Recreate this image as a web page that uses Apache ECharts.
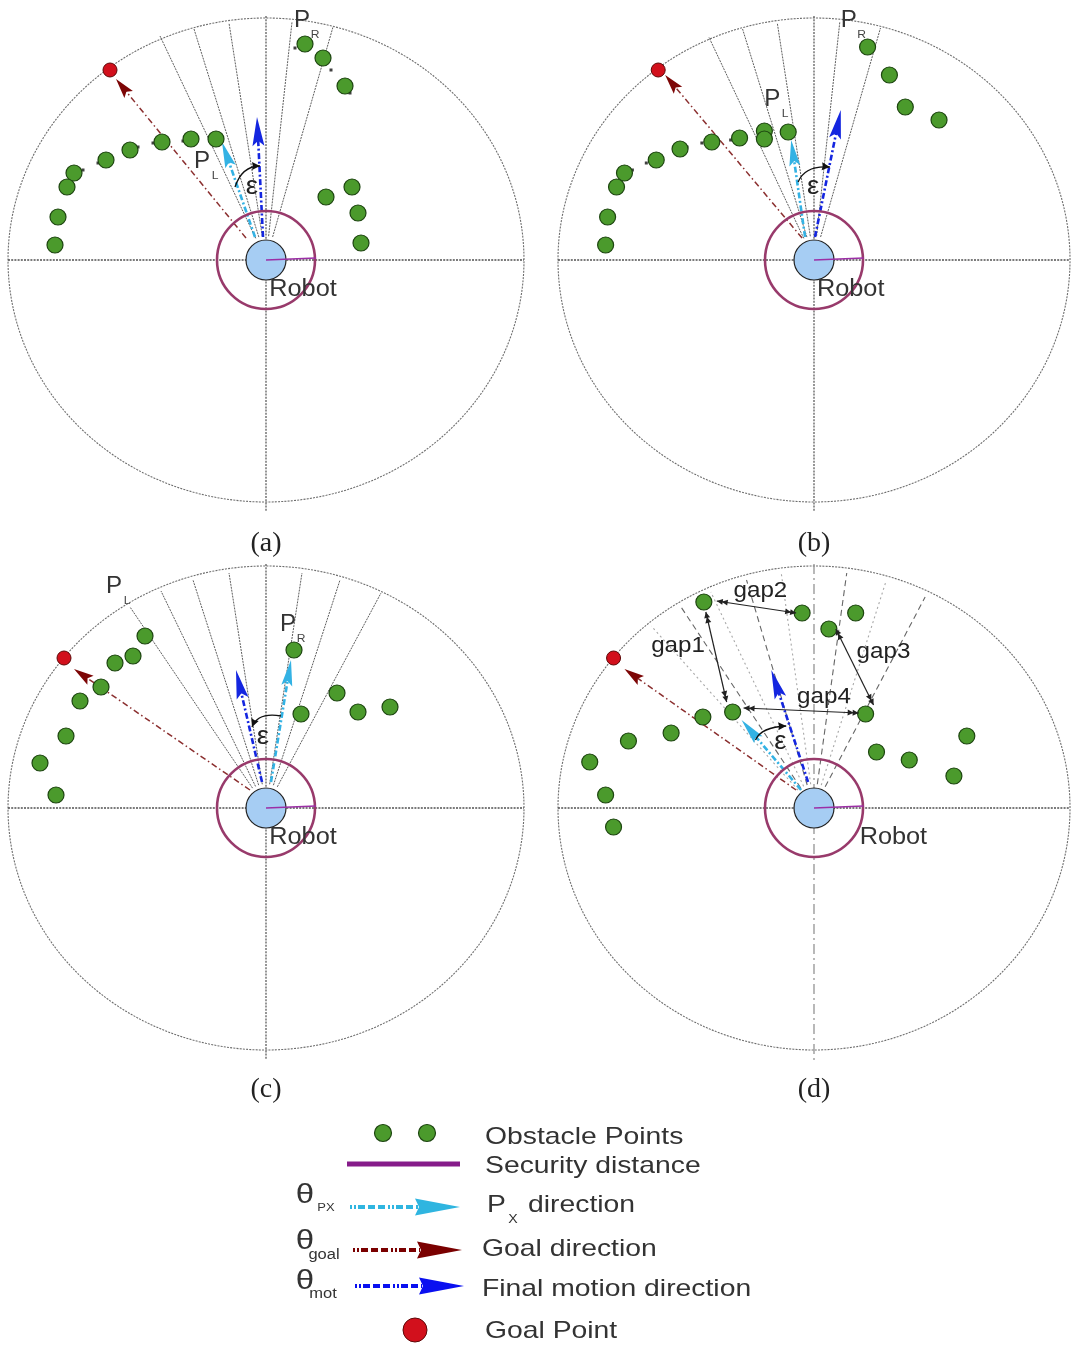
<!DOCTYPE html>
<html><head><meta charset="utf-8">
<script src="https://cdn.jsdelivr.net/npm/echarts@6/dist/echarts.min.js"></script>
<style>html,body{margin:0;padding:0;background:#fff}#c{width:1072px;height:1347px}</style>
</head><body><div id="c"></div>
<script>
// ---------- data (panel-local coordinates, x right / y up, robot at 0,0) ----------
const panelNames = ['(a)', '(b)', '(c)', '(d)'];
const obstaclesA = [[39,216],[57,202],[79,174],[-50,121],[-75,121],[-104,118],[-136,110],[-160,100],[-192,87],[-199,73],[-208,43],[-211,15],[60,63],[86,73],[92,47],[95,17]];
const obstaclesB = [[54,213],[76,185],[92,153],[126,140],[-26,128],[-50,129],[-50,121],[-75,122],[-103,118],[-135,111],[-159,100],[-191,87],[-199,73],[-208,43],[-210,15]];
const obstaclesC = [[-121,172],[-133,152],[-151,145],[-165,121],[-186,107],[-200,72],[-226,45],[-210,13],[28,158],[35,94],[71,115],[92,96],[124,101]];
const obstaclesD = [[-111,206],[-12,195],[42,195],[15,179],[-82,96],[-112,91],[-144,75],[-187,67],[-226,46],[-210,13],[-202,-19],[52,94],[63,56],[96,48],[154,72],[141,32]];
const scanDotsA = [[29,212],[65,190],[84,167],[-83,119],[-113,117],[-128,113],[-168,97],[-183,90]];
const scanDotsB = [[-84,120],[-113,117],[-128,113],[-169,97],[-183,90]];
const goalPoints = [[-156,190],[-157,190],[-202,150],[-202,150]];
const raysA = [[-106,224],[-72,231],[-37,237],[26,238],[67,233]];
const raysB = [[-106,223],[-72,231],[-37,237],[26,238],[67,232]];
const raysC = [[-136,201],[-105,217],[-73,228],[-37,235],[36,235],[74,228],[115,215]];
const raysD = [[-164,182],[-134,201],[-104,216],[-68,228],[-33,235],[33,235],[72,225],[112,211]];
// arrows: [startX, startY, tipX, tipY]
const goalArrows = [[-20,22,-150,181],[-12,22,-150,185],[-16,18,-192,139],[-18,18,-191,139]];
const pxArrows = [[-11,23,-44,118],[-9,23,-23,120],[5,26,25,148],[-13,18,-73,88]];
const motArrows = [[-3,23,-9,143],[1,23,27,150],[-4,26,-30,138],[-6,26,-43,138]];
// epsilon arcs: [start, control, end(arrow)]
const epsArcs = [[-31,73,-24,94,-6,94],[-16,78,-9,95,16,93],[15,92,-8,96,-14,81],[-59,68,-53,81,-28,82]];
const epsLabels = [[-14,73],[-1,73],[-3,71],[-34,66]];
// P labels: [subscript, x, y]
const pLabelsA = [['R',36,239],['L',-64,98]];
const pLabelsB = [['R',35,239],['L',-42,160]];
const pLabelsC = [['L',-152,221],['R',22,183]];
const pLabelsD = [];
const gapArrows = [[-109,196,-88,106],[-98,207,-18,195],[22,179,60,103],[-71,100,45,95]];
const gapNames = ['gap1','gap2','gap3','gap4'];
const gapLabelPos = [[-137,162],[-54,217],[70,156],[10,111]];
const robotLabelPos = [[37,-30],[37,-30],[37,-30],[80,-30]];
const captionPos = [[0,-284],[0,-284],[0,-282],[0,-282]];

// ---------- layout / style ----------
const centers = [[266,260],[816,260],[266,808],[816,808]];
const OUTER = [258, 242];
const RAY_START = 24;
const SANS = '"Liberation Sans", Arial, sans-serif';
const GREEN = '#4b9a2c', GREEN_B = '#1d4510';
const RED = '#d2101c', RED_B = '#5e0808';
const LBLUE = '#33b2e4', DBLUE = '#1426e0', DRED = '#7d0606';

function headEls(a, b, len, w, color, notch) {
  const dx = b[0]-a[0], dy = b[1]-a[1], L = Math.hypot(dx,dy) || 1;
  const ux = dx/L, uy = dy/L, nx = -uy, ny = ux;
  const bx = b[0]-ux*len, by = b[1]-uy*len;
  const n = notch || 0;
  return {type:'polygon', shape:{points:[[b[0],b[1]],[bx+nx*w/2,by+ny*w/2],[bx+ux*len*n,by+uy*len*n],[bx-nx*w/2,by-ny*w/2]]}, style:{fill:color}};
}
function arrowEls(a, b, st) {
  const dx = b[0]-a[0], dy = b[1]-a[1], L = Math.hypot(dx,dy) || 1;
  const ux = dx/L, uy = dy/L;
  const ex = b[0]-ux*(st.len*0.8), ey = b[1]-uy*(st.len*0.8);
  return [
    {type:'line', shape:{x1:a[0],y1:a[1],x2:ex,y2:ey}, style:{stroke:st.line, lineWidth:st.lw, lineDash:st.dash, fill:null}},
    headEls(a, b, st.len, st.w, st.head, 0.18)
  ];
}
function frameSeries(p) {
  return {type:'custom', xAxisIndex:p, yAxisIndex:p, data:[[0,0]], silent:true, z:1,
    renderItem:(params, api) => {
      const pts = [];
      for (let k=0;k<=240;k++){const t=k/240*Math.PI*2; pts.push(api.coord([OUTER[0]*Math.cos(t), OUTER[1]*Math.sin(t)]));}
      const l=api.coord([-OUTER[0],0]), r=api.coord([OUTER[0],0]), t=api.coord([0,OUTER[1]+2]), b=api.coord([0,-252]);
      return {type:'group', children:[
        {type:'polyline', shape:{points:pts}, style:{stroke:'#6e6e6e', lineWidth:1.1, lineDash:[2,1.2], fill:null}},
        {type:'line', shape:{x1:l[0],y1:l[1],x2:r[0],y2:r[1]}, style:{stroke:'#505050', lineWidth:1.3, lineDash:[2,1.2]}},
        {type:'line', shape:{x1:t[0],y1:t[1],x2:b[0],y2:b[1]}, style:{stroke:p===3?'#8a8a8a':'#505050', lineWidth:1.2, lineDash:p===3?[10,4,2,4]:[2,1.2]}}
      ]};
    }};
}
function raySeries(p, rays, styles) {
  return {type:'custom', xAxisIndex:p, yAxisIndex:p, data:rays, silent:true, z:2,
    renderItem:(params, api) => {
      const x=api.value(0), y=api.value(1), L=Math.hypot(x,y);
      const s=api.coord([x/L*RAY_START, y/L*RAY_START]), e=api.coord([x,y]);
      const st = styles[params.dataIndex % styles.length];
      return {type:'line', shape:{x1:s[0],y1:s[1],x2:e[0],y2:e[1]}, style:Object.assign({fill:null}, st)};
    }};
}
function arrowSeries(p, rows, st, z) {
  return {type:'custom', xAxisIndex:p, yAxisIndex:p, data:rows, silent:true, z:z,
    renderItem:(params, api) => {
      const a=api.coord([api.value(0),api.value(1)]), b=api.coord([api.value(2),api.value(3)]);
      return {type:'group', children:arrowEls(a,b,st)};
    }};
}
function robotSeries(p) {
  return {type:'custom', xAxisIndex:p, yAxisIndex:p, data:[[0,0]], silent:true, z:4,
    renderItem:(params, api) => {
      const c=api.coord([0,0]), e=api.coord([50,2]);
      return {type:'group', children:[
        {type:'circle', shape:{cx:c[0],cy:c[1],r:49}, style:{stroke:'#983a6b', lineWidth:2.6, fill:null}},
        {type:'circle', shape:{cx:c[0],cy:c[1],r:20}, style:{stroke:'#222', lineWidth:1.2, fill:'#a6cdf3'}},
        {type:'line', shape:{x1:c[0],y1:c[1],x2:e[0],y2:e[1]}, style:{stroke:'#9c2fa6', lineWidth:1.6}}
      ]};
    }};
}
function epsSeries(p, rows) {
  return {type:'custom', xAxisIndex:p, yAxisIndex:p, data:rows, silent:true, z:6,
    renderItem:(params, api) => {
      const a=api.coord([api.value(0),api.value(1)]), c=api.coord([api.value(2),api.value(3)]), e=api.coord([api.value(4),api.value(5)]);
      return {type:'group', children:[
        {type:'bezierCurve', shape:{x1:a[0],y1:a[1],x2:e[0],y2:e[1],cpx1:c[0],cpy1:c[1]}, style:{stroke:'#111', lineWidth:1.3, fill:null}},
        headEls(c, e, 8, 8, '#111', 0.1)
      ]};
    }};
}
function gapSeries(p, rows) {
  return {type:'custom', xAxisIndex:p, yAxisIndex:p, data:rows, silent:true, z:6,
    renderItem:(params, api) => {
      const a=api.coord([api.value(0),api.value(1)]), b=api.coord([api.value(2),api.value(3)]);
      const dx=b[0]-a[0], dy=b[1]-a[1], L=Math.hypot(dx,dy), ux=dx/L, uy=dy/L;
      const b2=[b[0]-ux*5,b[1]-uy*5], a2=[a[0]+ux*5,a[1]+uy*5];
      return {type:'group', children:[
        {type:'line', shape:{x1:a[0],y1:a[1],x2:b[0],y2:b[1]}, style:{stroke:'#222', lineWidth:1.2}},
        headEls(a2, b, 6, 6, '#222'), headEls(a, b2, 6, 6, '#222'),
        headEls(b2, a, 6, 6, '#222'), headEls(b, a2, 6, 6, '#222')
      ]};
    }};
}
function textSeries(p, rows, texts, font, color, sx, z) {
  return {type:'custom', xAxisIndex:p, yAxisIndex:p, data:rows, silent:true, z:z||8,
    renderItem:(params, api) => {
      const c=api.coord([api.value(0),api.value(1)]);
      return {type:'text', x:c[0], y:c[1], scaleX:sx||1, style:{text:texts[params.dataIndex], font:font, fill:color, align:'center', verticalAlign:'middle'}};
    }};
}

const obstacleSets = [obstaclesA, obstaclesB, obstaclesC, obstaclesD];
const raySets = [raysA, raysB, raysC, raysD];
const pLabelSets = [pLabelsA, pLabelsB, pLabelsC, pLabelsD];
const rayStyleSolid = [{stroke:'#5e5e5e', lineWidth:1, lineDash:[2,1]}];
const rayStyleD = [{stroke:'#a8a8a8', lineWidth:1.1, lineDash:[2,3]}, {stroke:'#666', lineWidth:1.1, lineDash:[6,4]}];

const series = [];
for (let p=0;p<4;p++) {
  series.push(frameSeries(p));
  series.push(raySeries(p, raySets[p], p===3 ? rayStyleD : rayStyleSolid));
  series.push(arrowSeries(p, [goalArrows[p]], {line:'#8b2f2f', lw:1.5, dash:[6,3,1.5,3], head:DRED, len:20, w:11}, 3));
  series.push(arrowSeries(p, [pxArrows[p]], {line:LBLUE, lw:2.6, dash:[6,2.5,2,2.5], head:LBLUE, len:26, w:11}, 3));
  series.push(arrowSeries(p, [motArrows[p]], {line:DBLUE, lw:2.6, dash:[6,2.5,2,2.5], head:DBLUE, len:29, w:12}, 3));
  series.push(robotSeries(p));
  series.push({type:'scatter', xAxisIndex:p, yAxisIndex:p, data:obstacleSets[p], symbolSize:16, clip:false, silent:true, z:5,
    itemStyle:{color:GREEN, borderColor:GREEN_B, borderWidth:1.2, opacity:1}});
  series.push({type:'scatter', xAxisIndex:p, yAxisIndex:p, data:[goalPoints[p]], symbolSize:14, clip:false, silent:true, z:5,
    itemStyle:{color:RED, borderColor:RED_B, borderWidth:1, opacity:1}});
  series.push(epsSeries(p, [epsArcs[p]]));
  series.push(textSeries(p, [epsLabels[p]], ['ε'], '25px ' + SANS, '#222', 1.1));
  series.push(textSeries(p, [robotLabelPos[p]], ['Robot'], '23px ' + SANS, '#333', 1.1));
  series.push(textSeries(p, [captionPos[p]], [panelNames[p]], '28px "Liberation Serif", "DejaVu Serif", serif', '#222', 1));
  const pl = pLabelSets[p];
  if (pl.length) {
    series.push(textSeries(p, pl.map(r=>[r[1],r[2]]), pl.map(()=> 'P'), '23px ' + SANS, '#333', 1.05));
    series.push(textSeries(p, pl.map(r=>[r[1]+13,r[2]-14]), pl.map(r=>r[0]), '11px ' + SANS, '#444', 1.1));
  }
}
series.push({type:'scatter', xAxisIndex:0, yAxisIndex:0, data:scanDotsA, symbol:'rect', symbolSize:3, clip:false, silent:true, z:4, itemStyle:{color:'#111'}});
series.push({type:'scatter', xAxisIndex:1, yAxisIndex:1, data:scanDotsB, symbol:'rect', symbolSize:3, clip:false, silent:true, z:4, itemStyle:{color:'#111'}});
series.push(gapSeries(3, gapArrows));
series.push(textSeries(3, gapLabelPos, gapNames, '22px ' + SANS, '#222', 1.1, 9));

// ---------- legend (drawn as graphic) ----------
const LF = '24px ' + SANS;
function legendArrow(x0, x1, y, color, lineColor, dash) {
  return [
    {type:'line', shape:{x1:x0,y1:y,x2:x1-42,y2:y}, style:{stroke:lineColor, lineWidth:4, lineDash:dash}},
    {type:'polygon', shape:{points:[[x1,y],[x1-45,y-8.5],[x1-41,y],[x1-45,y+8.5]]}, style:{fill:color}}
  ];
}
function ltext(x, y, t, font, align) {
  return {type:'text', x:x, y:y, scaleX:1.18, style:{text:t, font:font||LF, fill:'#333', align:align||'left', verticalAlign:'middle'}};
}
const graphic = [
  {type:'circle', shape:{cx:383, cy:1133, r:8.5}, style:{fill:GREEN, stroke:GREEN_B, lineWidth:1.2}},
  {type:'circle', shape:{cx:427, cy:1133, r:8.5}, style:{fill:GREEN, stroke:GREEN_B, lineWidth:1.2}},
  ltext(485, 1137, 'Obstacle Points'),
  {type:'line', shape:{x1:347,y1:1164,x2:460,y2:1164}, style:{stroke:'#861c8a', lineWidth:5}},
  ltext(485, 1166, 'Security distance'),
  ltext(305, 1195, 'θ', '28px ' + SANS, 'center'),
  ltext(326, 1208, 'PX', '11px ' + SANS, 'center'),
  ...legendArrow(350, 460, 1207, '#2fb5e0', '#2fb5e0', [2,2,2,2,7,3,7,3,7,3]),
  ltext(487, 1205, 'P'),
  ltext(513, 1220, 'X', '12px ' + SANS, 'center'),
  ltext(528, 1205, 'direction'),
  ltext(305, 1241, 'θ', '28px ' + SANS, 'center'),
  ltext(324, 1255, 'goal', '14px ' + SANS, 'center'),
  ...legendArrow(353, 462, 1250, '#7a0000', '#7a0000', [2,2,2,2,7,3,7,3,7,3]),
  ltext(482, 1249, 'Goal direction'),
  ltext(305, 1281, 'θ', '28px ' + SANS, 'center'),
  ltext(323, 1294, 'mot', '14px ' + SANS, 'center'),
  ...legendArrow(355, 464, 1286, '#0a10f0', '#0a10f0', [2,2,2,2,7,3,7,3,7,3]),
  ltext(482, 1289, 'Final motion direction'),
  {type:'circle', shape:{cx:415, cy:1330, r:12}, style:{fill:RED, stroke:RED_B, lineWidth:1}},
  ltext(485, 1331, 'Goal Point')
];

const chart = echarts.init(document.getElementById('c'), null, {renderer:'canvas'});
chart.setOption({
  animation:false,
  backgroundColor:'#fff',
  grid: centers.map(c => ({left:c[0]-260, top:c[1]-260, width:520, height:580, show:false})),
  xAxis: centers.map((c,i) => ({type:'value', gridIndex:i, min:-260, max:260, show:false})),
  yAxis: centers.map((c,i) => ({type:'value', gridIndex:i, min:-320, max:260, show:false})),
  series: series,
  graphic: graphic
});
</script></body></html>
